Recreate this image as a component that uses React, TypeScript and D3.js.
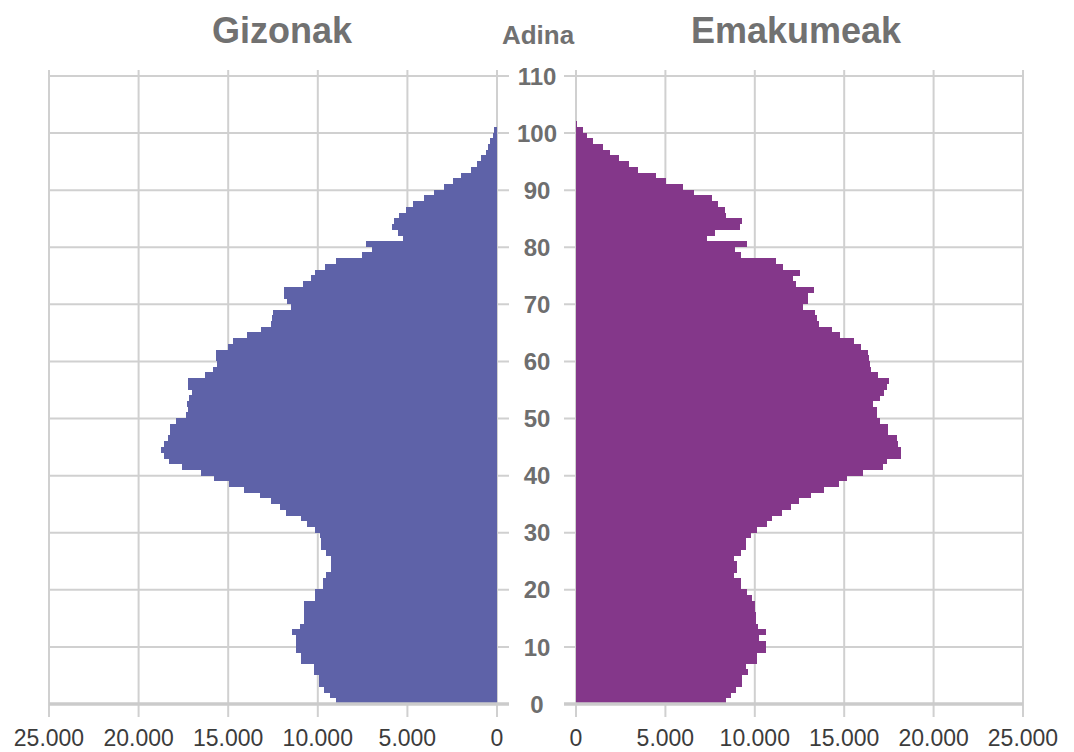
import React, { useEffect, useRef } from 'react';
import * as d3 from 'd3';

// population by single year of age (0 .. 101)
const gizonak = [
  9010, 9330, 9670, 9950, 9950, 10210, 10210, 10910, 10910, 11230,
  11230, 11230, 11420, 11010, 10780, 10780, 10780, 10780, 10130, 10130,
  9700, 9700, 9520, 9270, 9270, 9270, 9520, 9800, 9800, 9890,
  10130, 10630, 10910, 11750, 12120, 12590, 13240, 14120, 14970, 15800,
  16500, 17580, 18330, 18600, 18740, 18600, 18360, 18270, 18270, 17900,
  17350, 17250, 17320, 17200, 17030, 17260, 17260, 16320, 15850, 15600,
  15700, 15700, 15000, 14760, 13960, 13170, 12590, 12550, 12500, 11520,
  11700, 11890, 11890, 10820, 10390, 10170, 9610, 8960, 7560, 6950,
  7320, 5230, 5550, 5850, 5750, 5460, 5080, 4680, 4080, 3520,
  2960, 2440, 2010, 1470, 1140, 890, 610, 480, 390, 240,
  170, 0,
];

const emakumeak = [
  8380, 8660, 8940, 9300, 9300, 9640, 9500, 10110, 10110, 10640,
  10600, 10230, 10610, 10200, 10050, 10050, 10000, 10000, 9860, 9550,
  9250, 9250, 8840, 9030, 9030, 8840, 9250, 9490, 9490, 9770,
  10140, 10700, 10940, 11500, 12050, 12460, 13160, 13850, 14720, 15150,
  16070, 17190, 17370, 18150, 18150, 18020, 17930, 17430, 17430, 17000,
  16850, 16850, 16630, 17000, 17240, 17400, 17500, 16870, 16500, 16450,
  16400, 16350, 15920, 15560, 14780, 14310, 13610, 13500, 13390, 12680,
  12980, 12980, 13330, 12280, 12130, 12520, 11570, 11160, 9230, 8880,
  9550, 7300, 7800, 9200, 9270, 8380, 8340, 7920, 7580, 6620,
  6010, 5010, 4490, 3470, 2950, 2410, 1890, 1490, 930, 630,
  410, 70,
];

const ageTicks = [0, 10, 20, 30, 40, 50, 60, 70, 80, 90, 100, 110];
const valueTicks = [0, 5000, 10000, 15000, 20000, 25000];
const valueLabels = ['0', '5.000', '10.000', '15.000', '20.000', '25.000'];

const W = 1074;
const H = 752;
const font = '"Liberation Sans", Arial, sans-serif';

const App = () => {
  const svgRef = useRef<SVGSVGElement>(null);

  useEffect(() => {
    const svg = d3.select(svgRef.current);
    svg.selectAll('*').remove();

    const y = d3.scaleLinear().domain([0, 110]).range([704, 76]);
    const xL = d3.scaleLinear().domain([0, 25000]).range([497, 49]);
    const xR = d3.scaleLinear().domain([0, 25000]).range([576, 1023]);
    const band = y(0) - y(1);

    const grid = svg.append('g').attr('stroke', '#d0d0d0').attr('stroke-width', 2);

    // horizontal grid lines
    ageTicks.forEach(t => {
      if (t === 0) return;
      grid.append('line').attr('x1', xL(25000)).attr('x2', xL(0) + 12)
        .attr('y1', y(t)).attr('y2', y(t));
      grid.append('line').attr('x1', xR(0) - 12).attr('x2', xR(25000))
        .attr('y1', y(t)).attr('y2', y(t));
    });

    // vertical grid lines
    valueTicks.forEach(v => {
      [xL(v), xR(v)].forEach(x => {
        grid.append('line').attr('x1', x).attr('x2', x)
          .attr('y1', y(110) - 6).attr('y2', y(0) + 13);
      });
    });

    const ages = gizonak.map((_, i) => i);

    svg.append('g').attr('shape-rendering', 'crispEdges')
      .selectAll('rect')
      .data(ages)
      .join('rect')
      .attr('x', d => xL(gizonak[d]))
      .attr('y', d => y(d + 1) - 0.5)
      .attr('width', d => xL(0) - xL(gizonak[d]))
      .attr('height', band + 0.5)
      .attr('fill', '#5e62a8');

    svg.append('g').attr('shape-rendering', 'crispEdges')
      .selectAll('rect')
      .data(ages)
      .join('rect')
      .attr('x', xR(0))
      .attr('y', d => y(d + 1) - 0.5)
      .attr('width', d => xR(emakumeak[d]) - xR(0))
      .attr('height', band + 0.5)
      .attr('fill', '#84378a');

    // base axis line
    svg.append('line').attr('x1', xL(25000)).attr('x2', xL(0) + 12)
      .attr('y1', y(0)).attr('y2', y(0))
      .attr('stroke', '#cbcbcb').attr('stroke-width', 3.5);
    svg.append('line').attr('x1', xR(0) - 12).attr('x2', xR(25000))
      .attr('y1', y(0)).attr('y2', y(0))
      .attr('stroke', '#cbcbcb').attr('stroke-width', 3.5);

    // age labels
    svg.append('g').selectAll('text')
      .data(ageTicks)
      .join('text')
      .attr('x', 537)
      .attr('y', d => y(d))
      .attr('dy', '0.36em')
      .attr('text-anchor', 'middle')
      .attr('font-family', font)
      .attr('font-weight', 'bold')
      .attr('font-size', 24)
      .attr('fill', '#6e6e6e')
      .text(d => d);

    // value labels
    const vl = svg.append('g');
    valueTicks.forEach((v, i) => {
      [xL(v), xR(v)].forEach(x => {
        vl.append('text')
          .attr('x', x).attr('y', 746)
          .attr('text-anchor', 'middle')
          .attr('font-family', font)
          .attr('font-size', 23)
          .attr('fill', '#3c3c3c')
          .text(valueLabels[i]);
      });
    });

    const titles = [
      { t: 'Gizonak', x: 282, y: 43, s: 36 },
      { t: 'Adina', x: 538, y: 44, s: 26 },
      { t: 'Emakumeak', x: 796, y: 43, s: 36 },
    ];
    svg.append('g').selectAll('text')
      .data(titles)
      .join('text')
      .attr('x', d => d.x)
      .attr('y', d => d.y)
      .attr('text-anchor', 'middle')
      .attr('font-family', font)
      .attr('font-weight', 'bold')
      .attr('font-size', d => d.s)
      .attr('fill', '#717171')
      .text(d => d.t);
  }, []);

  return (
    <svg ref={svgRef} width={W} height={H}
      style={{ position: 'absolute', left: 0, top: 0, background: '#fff' }} />
  );
};

export default App;
